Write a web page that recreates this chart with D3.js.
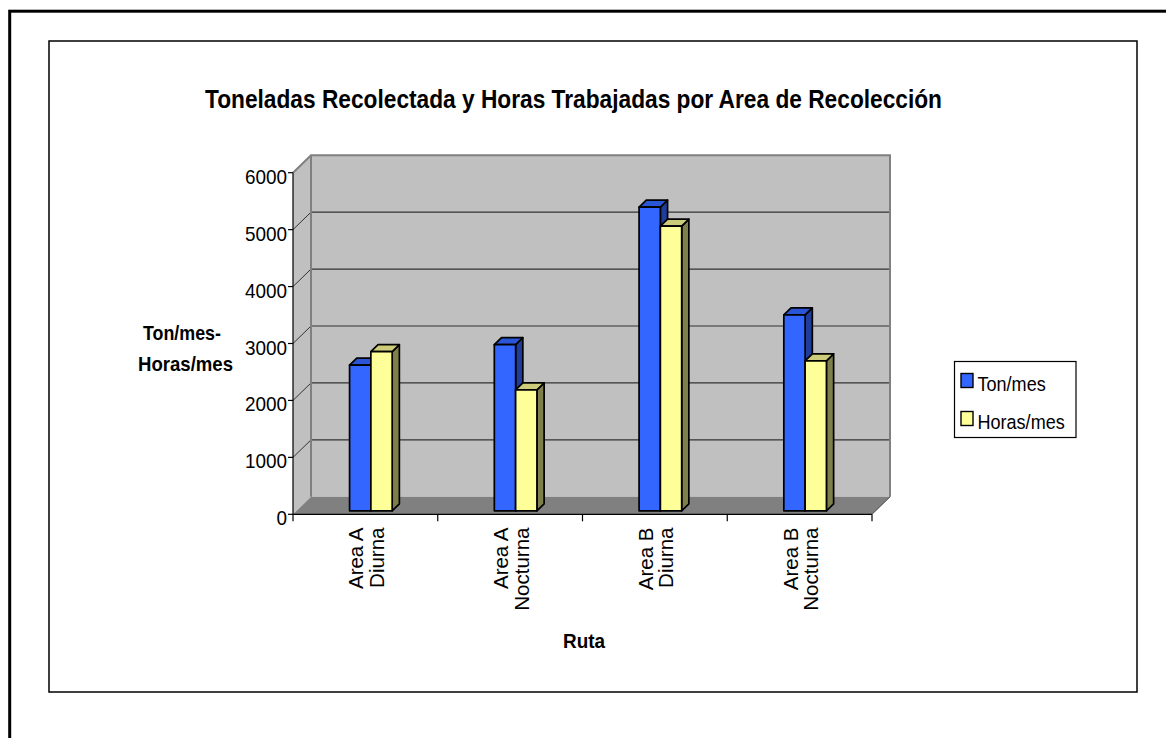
<!DOCTYPE html>
<html>
<head>
<meta charset="utf-8">
<script src="https://cdn.jsdelivr.net/npm/d3@7"></script>
<style>
  html, body { margin: 0; padding: 0; background: #ffffff; }
  svg { display: block; }
  text { font-family: "Liberation Sans", Arial, sans-serif; fill: #000; }
</style>
</head>
<body>
<svg id="chart" width="1166" height="738"></svg>
<script>
// ---- data ----
const categories = ["Area A|Diurna", "Area A|Nocturna", "Area B|Diurna", "Area B|Nocturna"];
const seriesNames = ["Ton/mes", "Horas/mes"];
const tonMes = [2560, 2920, 5335, 3440];
const horasMes = [2795, 2125, 5000, 2635];
const yTicks = [0, 1000, 2000, 3000, 4000, 5000, 6000];

const chartTitle = "Toneladas Recolectada y Horas Trabajadas por Area de Recolección";
const yTitleLines = ["Ton/mes-", "Horas/mes"];
const xTitle = "Ruta";

// ---- styles ----
const faceColors = [
  { front: "#3366ff", top: "#2a55d6", side: "#1f3d99" },
  { front: "#ffff99", top: "#cccc7a", side: "#7f7f4c" }
];

// narrow the rendered width of a text element by a factor
function condense(sel, factor) {
  sel.each(function () {
    const w = this.getComputedTextLength();
    d3.select(this).attr("textLength", w * factor).attr("lengthAdjust", "spacingAndGlyphs");
  });
  return sel;
}

const svg = d3.select("#chart");

// page frames
svg.append("rect").attr("x", 9.7).attr("y", 11.2).attr("width", 2000).attr("height", 2000)
  .attr("fill", "none").attr("stroke", "#000").attr("stroke-width", 3);
svg.append("rect").attr("x", 49).attr("y", 41).attr("width", 1088).attr("height", 651)
  .attr("fill", "#fff").attr("stroke", "#000").attr("stroke-width", 1.5);

// ---- 3D plot geometry ----
const x0 = 293, x1 = 872;          // front edge of the floor
const DX = 18, DY = -17.5;         // full depth offset of the back wall
const y = d3.scaleLinear().domain([0, 6000]).range([514.3, 172.7]);
const xBand = d3.scaleBand().domain(categories).range([x0, x1]).padding(0);
const xSeries = d3.scaleBand().domain(seriesNames).range([-19.4, 23.2]).padding(0);

// projection of a point at depth fraction z (0 = front, 1 = back wall)
const P = (px, py, z) => [px + z * DX, py + z * DY];
const poly = pts => pts.map(p => p.join(",")).join(" ");

const plot = svg.append("g");

// back wall
plot.append("polygon")
  .attr("points", poly([P(x0, y(6000), 1), P(x1, y(6000), 1), P(x1, y(0), 1), P(x0, y(0), 1)]))
  .attr("fill", "#c0c0c0");
// side wall
plot.append("polygon")
  .attr("points", poly([[x0, y(6000)], P(x0, y(6000), 1), P(x0, y(0), 1), [x0, y(0)]]))
  .attr("fill", "#c0c0c0");
// floor
plot.append("polygon")
  .attr("points", poly([[x0, y(0)], [x1, y(0)], P(x1, y(0), 1), P(x0, y(0), 1)]))
  .attr("fill", "#808080");

// gridlines on the back wall and side wall
yTicks.filter(v => v > 0 && v < 6000).forEach(v => {
  const a = P(x0, y(v), 1), b = P(x1, y(v), 1);
  plot.append("line").attr("x1", a[0]).attr("y1", a[1]).attr("x2", b[0]).attr("y2", b[1])
    .attr("stroke", "#333").attr("stroke-width", 1.2);
  plot.append("line").attr("x1", x0).attr("y1", y(v)).attr("x2", a[0]).attr("y2", a[1])
    .attr("stroke", "#333").attr("stroke-width", 1);
});

// wall borders
{
  const tl = P(x0, y(6000), 1), tr = P(x1, y(6000), 1), br = P(x1, y(0), 1), bl = P(x0, y(0), 1);
  plot.append("polyline")
    .attr("points", poly([[x0, y(6000)], tl, tr, br]))
    .attr("fill", "none").attr("stroke", "#808080").attr("stroke-width", 2);
  plot.append("line").attr("x1", tl[0]).attr("y1", tl[1]).attr("x2", bl[0]).attr("y2", bl[1])
    .attr("stroke", "#808080").attr("stroke-width", 2);
  plot.append("line").attr("x1", x1).attr("y1", y(0)).attr("x2", br[0]).attr("y2", br[1])
    .attr("stroke", "#404040").attr("stroke-width", 1);
}

// ---- bars ----
const zFront = 0.2, zBack = 0.6;
const series = [tonMes, horasMes];
categories.forEach((cat, i) => {
  const c = xBand(cat) + xBand.bandwidth() / 2;
  seriesNames.forEach((s, k) => {
    const v = series[k][i];
    const left = c + xSeries(s), right = left + xSeries.bandwidth();
    const fTL = P(left, y(v), zFront), fTR = P(right, y(v), zFront);
    const fBL = P(left, y(0), zFront), fBR = P(right, y(0), zFront);
    const bTL = P(left, y(v), zBack), bTR = P(right, y(v), zBack), bBR = P(right, y(0), zBack);
    const g = plot.append("g").attr("stroke", "#000").attr("stroke-width", 1.7)
      .attr("stroke-linejoin", "round");
    g.append("polygon").attr("points", poly([fTR, bTR, bBR, fBR])).attr("fill", faceColors[k].side);
    g.append("polygon").attr("points", poly([fTL, bTL, bTR, fTR])).attr("fill", faceColors[k].top);
    g.append("polygon").attr("points", poly([fTL, fTR, fBR, fBL])).attr("fill", faceColors[k].front);
  });
});

// ---- axes ----
const axisG = svg.append("g");
axisG.append("line").attr("x1", x0).attr("y1", y(6000)).attr("x2", x0).attr("y2", y(0))
  .attr("stroke", "#000").attr("stroke-width", 1.2);
axisG.append("line").attr("x1", x0).attr("y1", y(0)).attr("x2", x1).attr("y2", y(0))
  .attr("stroke", "#000").attr("stroke-width", 1.2);

yTicks.forEach(v => {
  axisG.append("line").attr("x1", x0 - 5).attr("y1", y(v)).attr("x2", x0).attr("y2", y(v))
    .attr("stroke", "#000").attr("stroke-width", 1.2);
  condense(axisG.append("text").attr("x", 287).attr("y", y(v) + 11)
    .attr("text-anchor", "end").attr("font-size", 21).text(v), 0.9);
});

// category boundary ticks
const boundaries = categories.map(c => xBand(c)).concat([x1]);
boundaries.forEach(bx => {
  axisG.append("line").attr("x1", bx).attr("y1", y(0)).attr("x2", bx).attr("y2", y(0) + 7)
    .attr("stroke", "#000").attr("stroke-width", 1.2);
});

// rotated category labels
categories.forEach(cat => {
  const c = xBand(cat) + xBand.bandwidth() / 2;
  cat.split("|").forEach((line, j) => {
    axisG.append("text")
      .attr("transform", `translate(${c - 2 + j * 20.6},527.5) rotate(-90)`)
      .attr("text-anchor", "end").attr("font-size", 20.5).text(line);
  });
});

// ---- titles ----
svg.append("text").attr("x", 573.5).attr("y", 107.5)
  .attr("text-anchor", "middle").attr("font-size", 25).attr("font-weight", "bold")
  .attr("textLength", 737).attr("lengthAdjust", "spacingAndGlyphs")
  .text(chartTitle);

svg.append("text").attr("x", 182).attr("y", 339.5)
  .attr("text-anchor", "middle").attr("font-size", 21).attr("font-weight", "bold")
  .attr("textLength", 78).attr("lengthAdjust", "spacingAndGlyphs").text(yTitleLines[0]);
svg.append("text").attr("x", 185.5).attr("y", 371)
  .attr("text-anchor", "middle").attr("font-size", 21).attr("font-weight", "bold")
  .attr("textLength", 95).attr("lengthAdjust", "spacingAndGlyphs").text(yTitleLines[1]);

condense(svg.append("text").attr("x", 584).attr("y", 648)
  .attr("text-anchor", "middle").attr("font-size", 21).attr("font-weight", "bold").text(xTitle), 0.9);

// ---- legend ----
const legend = svg.append("g");
legend.append("rect").attr("x", 954.5).attr("y", 361.5).attr("width", 121.5).attr("height", 76)
  .attr("fill", "#fff").attr("stroke", "#000").attr("stroke-width", 1.2);
seriesNames.forEach((s, k) => {
  const yy = 373.5 + k * 38;
  legend.append("rect").attr("x", 961).attr("y", yy).attr("width", 12).attr("height", 14)
    .attr("fill", faceColors[k].front).attr("stroke", "#000").attr("stroke-width", 1.4);
  condense(legend.append("text").attr("x", 977.5).attr("y", yy + 17)
    .attr("font-size", 20.5).text(s), 0.88);
});
</script>
</body>
</html>
